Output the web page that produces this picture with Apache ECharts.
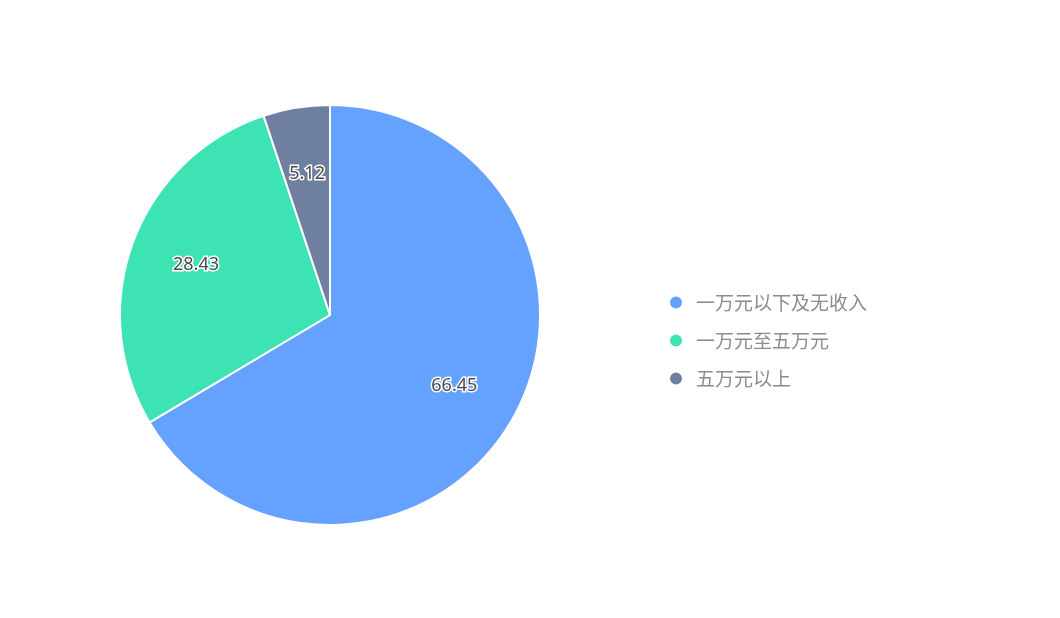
<!DOCTYPE html>
<html>
<head>
<meta charset="utf-8">
<script src="https://cdn.jsdelivr.net/npm/echarts@6/dist/echarts.min.js"></script>
<style>
html,body{margin:0;padding:0;background:#fff;}
#chart{width:1060px;height:618px;}
</style>
</head>
<body>
<div id="chart"></div>
<script>
var categories = ['一万元以下及无收入', '一万元至五万元', '五万元以上'];
var values = [66.45, 28.43, 5.12];
var colors = ['#65A2FF', '#3DE3B3', '#6E7F9F'];

var pieData = categories.map(function (c, i) { return { name: c, value: values[i] }; });

var chart = echarts.init(document.getElementById('chart'));
chart.setOption({
  color: colors,
  animation: false,
  legend: {
    orient: 'vertical',
    left: 663,
    top: 288,
    itemWidth: 14,
    itemHeight: 14,
    itemGap: 19,
    icon: 'circle',
    textStyle: { fontSize: 19, color: '#8c8c8c', fontFamily: 'Noto Sans CJK SC', padding: [0, 0, 0, 8] },
    data: categories
  },
  series: [
    {
      type: 'pie',
      center: [330, 315],
      radius: [0, 210],
      label: { show: false },
      labelLine: { show: false },
      itemStyle: { borderColor: '#fff', borderWidth: 2 },
      data: pieData
    },
    {
      type: 'pie',
      center: [330, 315],
      radius: [70, 210],
      silent: true,
      legendHoverLink: false,
      itemStyle: { color: 'rgba(0,0,0,0)', borderWidth: 0 },
      label: {
        show: true,
        position: 'inside',
        formatter: '{c}',
        fontSize: 18,
        color: '#4a4a4a',
        textBorderColor: '#fff',
        textBorderWidth: 3,
        fontFamily: 'Noto Sans'
      },
      labelLine: { show: false },
      data: pieData
    }
  ]
});
</script>
</body>
</html>
